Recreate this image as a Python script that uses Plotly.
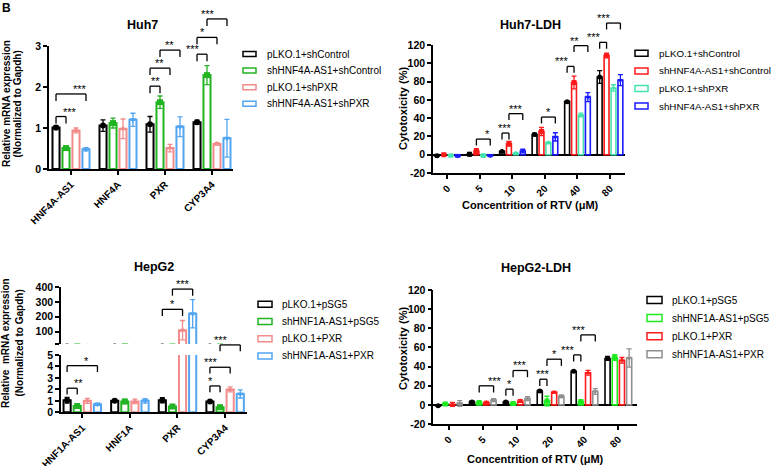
import plotly.graph_objects as go

W, H = 776, 466
FONT = "Liberation Sans, Arial, sans-serif"

# ---------------- data ----------------
huh7_genes = ["HNF4A-AS1", "HNF4A", "PXR", "CYP3A4"]
huh7_groups = ["pLKO.1+shControl", "shHNF4A-AS1+shControl", "pLKO.1+shPXR", "shHNF4A-AS1+shPXR"]
huh7_mean = [
    [1.01, 1.06, 1.09, 1.14],
    [0.51, 1.12, 1.63, 2.29],
    [0.94, 0.98, 0.51, 0.61],
    [0.48, 1.20, 1.03, 0.75],
]
huh7_err = [
    [0.05, 0.14, 0.19, 0.05],
    [0.05, 0.12, 0.15, 0.23],
    [0.06, 0.24, 0.09, 0.03],
    [0.04, 0.16, 0.24, 0.46],
]
# (gene index, group a, group b, bracket height, label)
huh7_sig = [
    (0, 0, 1, 1.28, "***"), (0, 0, 3, 1.83, "***"),
    (2, 0, 1, 2.02, "**"), (2, 0, 2, 2.46, "**"), (2, 1, 3, 2.90, "**"),
    (3, 0, 1, 2.80, "***"), (3, 0, 2, 3.21, "*"), (3, 1, 3, 3.66, "***"),
]

rtv_doses = ["0", "5", "10", "20", "40", "80"]
huh7_ldh_mean = [
    [-1.0, 0.5, 3.5, 22.0, 58.0, 85.0],
    [0.0, 4.0, 12.0, 25.5, 79.0, 108.5],
    [-1.0, -1.0, 1.5, 13.0, 43.5, 73.0],
    [-1.5, -1.0, 4.0, 19.5, 63.0, 81.5],
]
huh7_ldh_err = [
    [1.0, 2.0, 1.0, 1.5, 1.0, 7.0],
    [0.5, 2.5, 2.5, 4.5, 7.0, 2.5],
    [1.5, 2.0, 1.0, 1.0, 2.0, 3.5],
    [1.0, 1.0, 2.0, 4.5, 5.0, 6.0],
]
huh7_ldh_sig = [
    (1, 1, 3, 17.1, "*"), (2, 0, 1, 23.7, "***"), (2, 1, 3, 44.9, "***"),
    (3, 1, 3, 41.2, "*"), (4, 0, 1, 96.6, "***"), (4, 1, 3, 119.3, "**"),
    (5, 0, 1, 122.9, "***"), (5, 1, 3, 144.0, "***"),
]

hepg2_genes = ["HNF1A-AS1", "HNF1A", "PXR", "CYP3A4"]
hepg2_groups = ["pLKO.1+pSG5", "shHNF1A-AS1+pSG5", "pLKO.1+PXR", "shHNF1A-AS1+PXR"]
hepg2_mean = [
    [1.05, 1.00, 1.05, 0.95],
    [0.55, 0.95, 0.50, 0.45],
    [1.00, 0.95, 110.0, 2.00],
    [0.70, 1.00, 220.0, 1.60],
]
hepg2_err = [
    [0.25, 0.12, 0.22, 0.08],
    [0.12, 0.18, 0.08, 0.18],
    [0.22, 0.20, 65.0, 0.22],
    [0.10, 0.20, 95.0, 0.35],
]
hepg2_sig_low = [
    (0, 0, 1, 2.10, "**"), (0, 0, 3, 4.07, "*"),
    (3, 0, 1, 2.30, "*"), (3, 0, 2, 3.93, "***"), (3, 1, 3, 5.88, "***"),
]
hepg2_sig_high = [(2, 0, 2, 250.0, "*"), (2, 1, 3, 386.0, "***")]

hepg2_ldh_mean = [
    [-1.0, 3.0, 3.0, 14.5, 35.0, 48.5],
    [1.0, 2.5, 1.5, 4.0, 3.5, 49.5],
    [0.5, 2.5, 4.0, 13.0, 33.5, 46.5],
    [1.5, 5.0, 6.5, 9.0, 14.0, 49.0],
]
hepg2_ldh_err = [
    [0.5, 1.5, 1.0, 1.0, 1.0, 2.0],
    [0.5, 0.5, 0.5, 5.0, 0.5, 3.0],
    [2.0, 1.0, 1.5, 1.0, 2.5, 3.0],
    [3.0, 1.5, 2.0, 1.5, 3.0, 9.5],
]
hepg2_ldh_sig = [
    (1, 1, 3, 19.9, "***"), (2, 0, 1, 16.4, "*"), (2, 1, 3, 35.9, "***"),
    (3, 0, 1, 26.8, "***"), (3, 1, 3, 47.7, "*"), (4, 0, 1, 52.2, "***"),
    (4, 1, 3, 73.1, "***"),
]

mrna_ticks = [0, 1, 2, 3]
ldh_ticks = [-20, 0, 20, 40, 60, 80, 100, 120]
hepg2_low_ticks = [0, 1, 2, 3, 4, 5]
hepg2_high_ticks = [17.4, 100, 200, 300, 400]

# ---------------- styles ----------------
COL_A = ["#000000", "#22B422", "#F28C8C", "#52A5F0"]
COL_B = ["#000000", "#FF1A1A", "#45E3AE", "#1A1AFF"]
COL_D = ["#000000", "#1EEB1E", "#FF1A1A", "#8F8F8F"]
SYMBOLS = ["circle", "square", "triangle-up", "triangle-down"]
SLOT, BW = 0.2125, 0.15
OFF = [(k - 1.5) * SLOT for k in range(4)]


def fx(p):
    return p / W


def fy(p):
    return 1 - p / H


fig = go.Figure()
shapes, annos = [], []


def add_series(xa, ya, means, errs, colors, lw, msize):
    for k in range(4):
        xs = [i + OFF[k] for i in range(len(means[k]))]
        fig.add_trace(go.Bar(
            x=xs, y=means[k], width=BW, xaxis=xa, yaxis=ya, showlegend=False,
            marker=dict(color="white", line=dict(color=colors[k], width=lw)),
            hoverinfo="skip"))
        fig.add_trace(go.Scatter(
            x=xs, y=means[k], mode="markers", xaxis=xa, yaxis=ya, showlegend=False,
            marker=dict(symbol=SYMBOLS[k], color=colors[k], size=msize),
            error_y=dict(type="data", array=errs[k], color=colors[k], thickness=1.3, width=2.5)))


def add_brackets(xa, ya, xr, yr, sigs, drop):
    for g, a, b, yv, lab in sigs:
        x1 = (g + OFF[a] - xr[0]) / (xr[1] - xr[0])
        x2 = (g + OFF[b] - xr[0]) / (xr[1] - xr[0])
        yt = (yv - yr[0]) / (yr[1] - yr[0])
        yb = (yv - drop - yr[0]) / (yr[1] - yr[0])
        ref = dict(xref=xa + " domain", yref=ya + " domain", type="line",
                   line=dict(color="black", width=1.3))
        shapes.append(dict(x0=x1, x1=x1, y0=yb, y1=yt, **ref))
        shapes.append(dict(x0=x1, x1=x2, y0=yt, y1=yt, **ref))
        shapes.append(dict(x0=x2, x1=x2, y0=yt, y1=yb, **ref))
        annos.append(dict(x=(x1 + x2) / 2, y=yt, xref=xa + " domain", yref=ya + " domain",
                          text=lab, showarrow=False, yanchor="bottom", yshift=-3,
                          font=dict(size=11, color="#000000", family=FONT)))


def add_legend(xbox, y0, dy, bw, bh, xtext, names, colors, fsize):
    for k, name in enumerate(names):
        yc = y0 + k * dy
        shapes.append(dict(type="rect", xref="paper", yref="paper",
                           x0=fx(xbox), x1=fx(xbox + bw), y0=fy(yc + bh / 2), y1=fy(yc - bh / 2),
                           line=dict(color=colors[k], width=1.5), fillcolor="white"))
        annos.append(dict(x=fx(xtext), y=fy(yc), xref="paper", yref="paper", text=name,
                          showarrow=False, xanchor="left", yanchor="middle",
                          font=dict(size=fsize, color="black", family=FONT)))


def text(xp, yp, s, size, bold=True, angle=0):
    annos.append(dict(x=fx(xp), y=fy(yp), xref="paper", yref="paper",
                      text=("<b>%s</b>" % s) if bold else s, showarrow=False,
                      textangle=angle, xanchor="center", yanchor="middle",
                      font=dict(size=size, color="black", family=FONT)))


AX = dict(showline=True, linecolor="black", linewidth=1.5, ticks="outside", ticklen=4,
          tickwidth=1.5, tickcolor="black", showgrid=False, zeroline=False, automargin=False,
          tickfont=dict(size=10.5, color="black", family=FONT, weight="bold"))


def xaxis(dom, rng, labels, anchor, **kw):
    d = dict(AX)
    d.update(domain=[fx(dom[0]), fx(dom[1])], range=list(rng), anchor=anchor,
             tickmode="array", tickvals=list(range(len(labels))), ticktext=labels,
             tickangle=-45, tickfont=dict(size=10, color="black", family=FONT, weight="bold"))
    d.update(kw)
    return d


def yaxis(dom, rng, ticks, anchor, ticktext=None, **kw):
    d = dict(AX)
    d.update(domain=[fy(dom[1]), fy(dom[0])], range=list(rng), anchor=anchor,
             tickmode="array", tickvals=ticks,
             ticktext=ticktext if ticktext is not None else [str(t) for t in ticks])
    d.update(kw)
    return d


# ---- panel A: Huh7 ----
xrA, yrA = (-0.468, 3.447), (0, 3)
add_series("x", "y", huh7_mean, huh7_err, COL_A, 2, 6)
add_brackets("x", "y", xrA, yrA, huh7_sig, 0.17)
add_legend(243, 54, 16.6, 13, 5, 265, huh7_groups, COL_A, 10)
text(142, 25, "Huh7", 12.5)
text(6, 104, "Relative mRNA expression", 10, angle=-90)
text(16.5, 104, "(Normalized to Gapdh)", 10, angle=-90)

# ---- panel B: Huh7-LDH ----
xrB, yrB = (-0.44, 5.46), (-20, 120)
add_series("x2", "y2", huh7_ldh_mean, huh7_ldh_err, COL_B, 1.6, 5)
add_brackets("x2", "y2", xrB, yrB, huh7_ldh_sig, 7)
add_legend(635, 53.3, 17.6, 13, 6, 657, huh7_groups, COL_B, 9.8)
text(530, 25, "Huh7-LDH", 12.5)
text(403, 109, "Cytotoxicity (%)", 11, angle=-90)
text(530, 205, "Concentrition of RTV (μM)", 11)

# ---- panel C: HepG2 (broken axis) ----
xrC, yrCl, yrCh = (-0.447, 3.46), (0, 5), (17.4, 400)
add_series("x3", "y3", hepg2_mean, hepg2_err, COL_A, 2, 6)
add_series("x4", "y4", hepg2_mean, hepg2_err, COL_A, 2, 6)
add_brackets("x3", "y3", xrC, yrCl, hepg2_sig_low, 0.55)
add_brackets("x4", "y4", xrC, yrCh, hepg2_sig_high, 44)
add_legend(258, 304.3, 17.2, 14, 6, 279.5, hepg2_groups, COL_A, 10)
text(154, 267, "HepG2", 12.5)
text(5, 343, "Relative  mRNA expression", 10, angle=-90)
text(18.5, 343, "(Normalized to Gapdh)", 10, angle=-90)

# ---- panel D: HepG2-LDH ----
xrD, yrD = (-0.46, 5.55), (-20, 120)
add_series("x5", "y5", hepg2_ldh_mean, hepg2_ldh_err, COL_D, 1.6, 5)
add_brackets("x5", "y5", xrD, yrD, hepg2_ldh_sig, 7)
add_legend(647, 300, 18.1, 15, 7, 669.5, hepg2_groups, COL_D, 10)
text(536, 268, "HepG2-LDH", 12.5)
text(403, 349, "Cytotoxicity (%)", 11, angle=-90)
text(535, 459, "Concentrition of RTV (μM)", 11)

# corner panel letter
text(6, 8, "B", 12)

fig.update_layout(
    width=W, height=H, autosize=False, margin=dict(l=0, r=0, t=0, b=0, pad=0, autoexpand=False),
    paper_bgcolor="white", plot_bgcolor="white", barmode="overlay",
    font=dict(family=FONT, color="black"), showlegend=False,
    xaxis=xaxis((49, 233), xrA, huh7_genes, "y"),
    yaxis=yaxis((46, 169), yrA, mrna_ticks, "x"),
    xaxis2=xaxis((433, 625), xrB, rtv_doses, "y2"),
    yaxis2=yaxis((45, 173), yrB, ldh_ticks, "x2", zeroline=True,
                 zerolinecolor="black", zerolinewidth=2),
    xaxis3=xaxis((61, 247), xrC, hepg2_genes, "y3"),
    yaxis3=yaxis((355, 412.3), yrCl, hepg2_low_ticks, "x3"),
    xaxis4=xaxis((61, 247), xrC, hepg2_genes, "y4", visible=False),
    yaxis4=yaxis((287, 344), yrCh, hepg2_high_ticks, "x4",
                 ticktext=[""] + [str(t) for t in hepg2_high_ticks[1:]]),
    xaxis5=xaxis((433.3, 637), xrD, rtv_doses, "y5"),
    yaxis5=yaxis((290, 424), yrD, ldh_ticks, "x5", zeroline=True,
                 zerolinecolor="black", zerolinewidth=2),
    shapes=shapes, annotations=annos,
)

fig.write_html("out.html", config={"displayModeBar": False},
               post_script="document.body.style.margin='0';document.body.style.overflow='hidden';")
